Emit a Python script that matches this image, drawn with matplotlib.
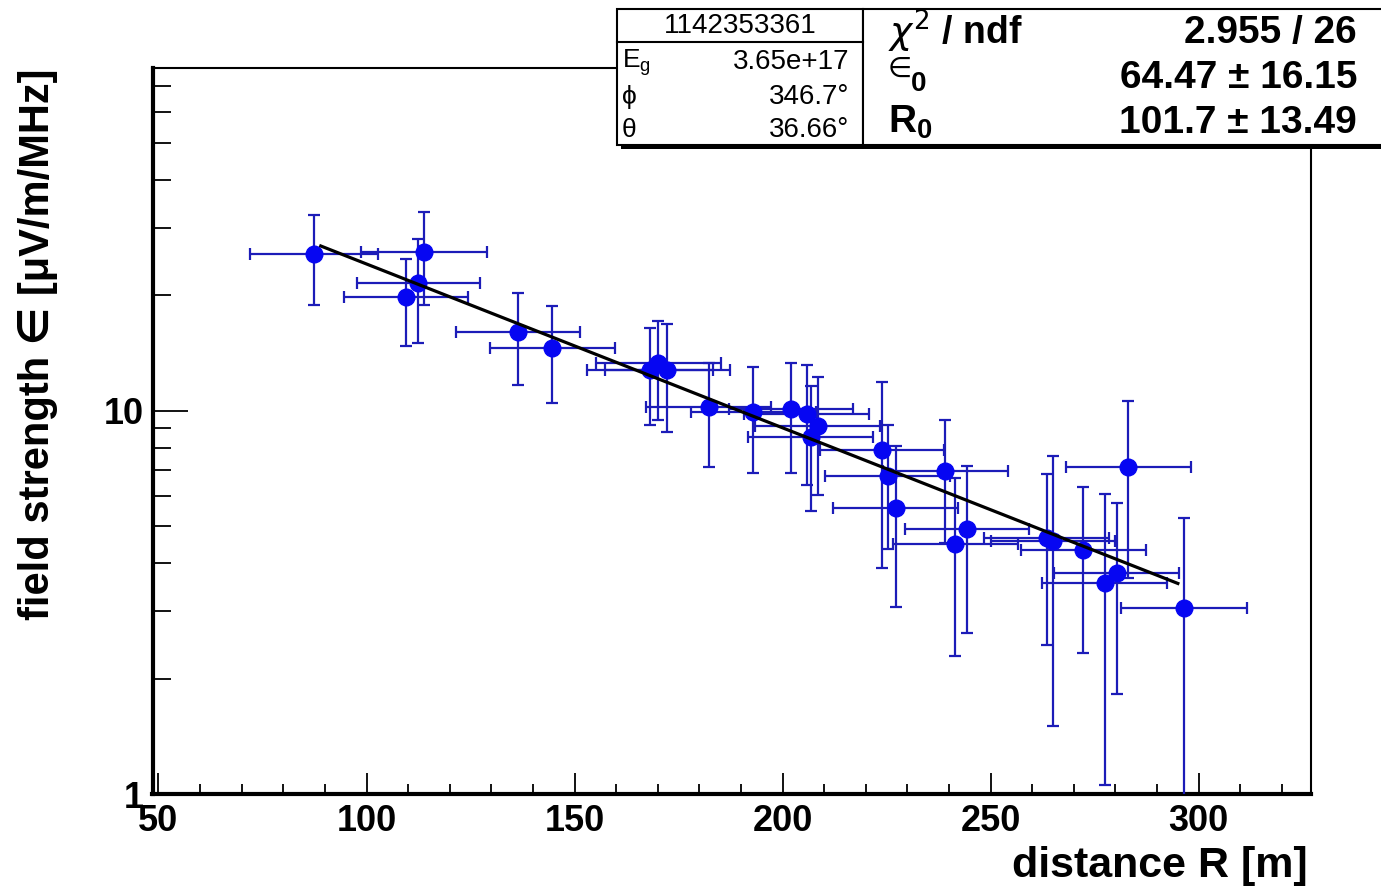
import matplotlib
matplotlib.use("Agg")
import matplotlib.pyplot as plt
import numpy as np
from matplotlib.patches import Rectangle
from matplotlib.lines import Line2D
from matplotlib.ticker import FixedLocator, FixedFormatter, NullFormatter

plt.rcParams['font.family'] = ['Liberation Sans', 'DejaVu Sans']
plt.rcParams['mathtext.fontset'] = 'dejavusans'

# station data: distance R [m] and field strength eps [uV/m/MHz]
dist = [87.4, 113.8, 112.4, 109.5, 136.4, 144.6, 168.1, 170.1, 172.3, 182.2,
        193.0, 202.0, 205.8, 208.4, 206.8, 223.8, 225.3, 227.2, 239.1, 244.3,
        241.5, 263.5, 265.0, 272.3, 277.4, 280.3, 283.1, 296.5]
dist_err = [15.3, 15.2, 14.8, 15.0, 15.0, 15.0, 15.1, 15.0, 15.0, 15.0,
            15.0, 15.0, 15.0, 15.0, 15.0, 14.9, 15.0, 15.0, 15.0, 15.0,
            15.0, 15.0, 15.0, 15.0, 15.0, 15.0, 15.1, 15.1]
field = [25.6, 25.9, 21.5, 19.8, 16.0, 14.6, 12.8, 13.3, 12.8, 10.24,
         9.94, 10.08, 9.79, 9.14, 8.56, 7.90, 6.76, 5.57, 6.98, 4.91,
         4.49, 4.65, 4.56, 4.34, 3.56, 3.78, 7.12, 3.06]
field_err = [6.7, 7.1, 6.5, 5.05, 4.3, 4.1, 3.6, 3.85, 4.0, 3.1,
             3.05, 3.2, 3.4, 3.1, 3.07, 4.0, 2.4, 2.5, 2.45, 2.27,
             2.2, 2.2, 3.05, 2.0, 2.5, 1.95, 3.45, 2.2]

# exponential fit  eps(R) = eps0 * exp(-R / R0)
eps0 = 64.47
R0 = 101.7
fit_range = (89.0, 295.0)

event_id = "1142353361"
box_left = [("E$_\\mathregular{g}$", "3.65e+17"), ("ϕ", "346.7°"), ("θ", "36.66°")]
box_right_vals = ["2.955 / 26", "64.47 ± 16.15", "101.7 ± 13.49"]

W, H = 1381, 891
fig = plt.figure(figsize=(W / 100, H / 100), dpi=100)


def fx(px):
    return px / W


def fy(py):
    return 1 - py / H


ax = fig.add_axes([fx(152.5), fy(794.3), (1311 - 152.5) / W, (794.3 - 68) / H])

blue_line = '#1c1cb8'
blue_mark = '#0606f2'
ax.errorbar(dist, field, xerr=dist_err, yerr=field_err, fmt='o', ms=12,
            color=blue_mark, ecolor=blue_line, elinewidth=1.6, capsize=4.2,
            capthick=1.6, zorder=3)

rr = np.linspace(fit_range[0], fit_range[1], 200)
ax.plot(rr, eps0 * np.exp(-rr / R0), color='black', lw=2.3, zorder=4)

ax.set_yscale('log')
ax.set_xlim(48.56, 327.0)
ax.set_ylim(1, 78.2)

ax.xaxis.set_major_locator(FixedLocator([50, 100, 150, 200, 250, 300]))
ax.xaxis.set_minor_locator(FixedLocator(np.arange(50, 330, 10)))
ax.yaxis.set_major_locator(FixedLocator([1, 10]))
ax.yaxis.set_major_formatter(FixedFormatter(['1', '10']))
ax.yaxis.set_minor_locator(FixedLocator([2, 3, 4, 5, 6, 7, 8, 9, 20, 30, 40, 50, 60, 70]))
ax.yaxis.set_minor_formatter(NullFormatter())

ax.tick_params(axis='x', which='major', direction='in', length=15, width=1.3,
               labelsize=26, pad=7, top=False)
ax.tick_params(axis='x', which='minor', direction='in', length=7.5, width=1.3, top=False)
ax.tick_params(axis='y', which='major', direction='in', length=25, width=1.3,
               labelsize=26, pad=6, right=False)
ax.tick_params(axis='y', which='minor', direction='in', length=13, width=1.3, right=False)
for lab in ax.get_xticklabels() + ax.get_yticklabels():
    lab.set_fontweight('bold')

for s in ['left', 'bottom']:
    ax.spines[s].set_linewidth(3.0)
for s in ['top', 'right']:
    ax.spines[s].set_linewidth(1.5)

fig.text(fx(38), fy(68), "field strength ∈ [μV/m/MHz]", rotation=90,
         ha='center', va='top', fontsize=30, fontweight='bold')
fig.text(fx(1308), fy(877), "distance R [m]", ha='right', va='baseline',
         fontsize=31, fontweight='bold')


# stats boxes (ROOT style with shadow)
def box(x0, y0, x1, y1):
    fig.add_artist(Rectangle((fx(x0 + 4), fy(y1 + 4)), (x1 - x0) / W, (y1 - y0) / H,
                             transform=fig.transFigure, facecolor='black',
                             edgecolor='black', lw=0, zorder=9))
    fig.add_artist(Rectangle((fx(x0), fy(y1)), (x1 - x0) / W, (y1 - y0) / H,
                             transform=fig.transFigure, facecolor='white',
                             edgecolor='black', lw=1.5, zorder=10))


box(617, 9.5, 863, 145)
fig.add_artist(Line2D([fx(617), fx(863)], [fy(42), fy(42)], transform=fig.transFigure,
                      color='black', lw=1.5, zorder=11))
fig.text(fx(740), fy(26), event_id, ha='center', va='center', fontsize=20, zorder=12)
for (lab, val), yy in zip(box_left, [62, 97, 130]):
    fig.text(fx(622), fy(yy), lab, ha='left', va='center', fontsize=19, zorder=12)
    fig.text(fx(849), fy(yy), val, ha='right', va='center', fontsize=20, zorder=12)

box(863, 9.5, 1400, 145)
fig.text(fx(888), fy(31), "$\\chi^{2}$ / ndf", ha='left', va='center',
         fontsize=27, fontweight='bold', zorder=12)
fig.text(fx(888), fy(70), "∈", ha='left', va='center', fontsize=20, zorder=12)
fig.text(fx(911), fy(84), "0", ha='left', va='center', fontsize=20,
         fontweight='bold', zorder=12)
fig.text(fx(888), fy(122), "R$_\\mathregular{0}$", ha='left', va='center',
         fontsize=28, fontweight='bold', zorder=12)
for val, yv in zip(box_right_vals, [33, 78, 123]):
    fig.text(fx(1357), fy(yv), val, ha='right', va='center', fontsize=28,
             fontweight='bold', zorder=12)

fig.savefig("out.png", dpi=100)
